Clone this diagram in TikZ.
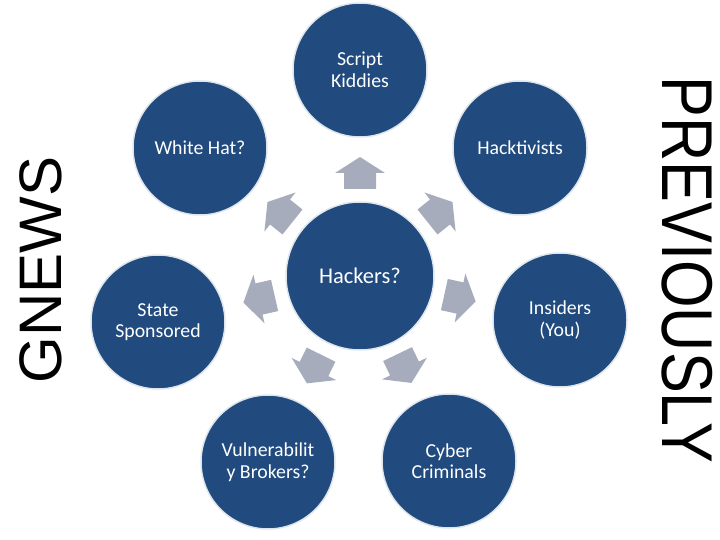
\documentclass[tikz,border=0pt]{standalone}
\usepackage{fontspec}
\setmainfont{Carlito}
\newfontfamily\arialf{Liberation Sans}
\usetikzlibrary{calc}
\definecolor{hblue}{RGB}{33,74,126}
\definecolor{hedge}{RGB}{222,230,236}
\definecolor{hgray}{RGB}{167,172,189}
\begin{document}
\begin{tikzpicture}[x=1pt,y=-1pt,
  hub/.style={circle, fill=hblue, draw=hedge, line width=1.5pt, minimum size=148pt, inner sep=0pt, text=white, align=center, font=\fontsize{22.5}{26}\selectfont},
  role/.style={circle, fill=hblue, draw=hedge, line width=1.5pt, minimum size=134pt, inner sep=0pt, text=white, align=center, font=\fontsize{19.8}{21.5}\selectfont},
  blockarrow/.style={fill=hgray},
  sidetext/.style={font=\arialf\fontsize{60}{60}\selectfont, text=black, inner sep=0pt}]
\useasboundingbox (0,0) rectangle (720,540);
\node[hub] (c) at (360,276) {Hackers?};
\node[role] (sk) at (360,70) {Script\\Kiddies};
\node[role] (ht) at (520,148) {Hacktivists};
\node[role] (in) at (560,320) {Insiders\\(You)};
\node[role] (cc) at (449,461) {Cyber\\Criminals};
\node[role] (vb) at (268,462) {Vulnerabilit\\y Brokers?};
\node[role] (ss) at (158,322) {State\\Sponsored};
\node[role] (wh) at (200,148) {White Hat?};
\foreach \o in {sk,ht,in,cc,vb,ss,wh}{
  \pgfmathanglebetweenpoints{\pgfpointanchor{c}{center}}{\pgfpointanchor{\o}{center}}
  \let\ang\pgfmathresult
  \begin{scope}[shift={($(c)!0.5!(\o)$)}, rotate=\ang]
    \fill[blockarrow] (-16,-16) -- (0,-16) -- (0,-25) -- (16,0) -- (0,25) -- (0,16) -- (-16,16) -- cycle;
  \end{scope}
}
\node[sidetext, rotate=90] (gn) at (41,270) {GNEWS};
\node[sidetext, rotate=-90] (pv) at (687,270) {\scalebox{1.02}[1.2]{PREVIOUSLY}};
\end{tikzpicture}
\end{document}
